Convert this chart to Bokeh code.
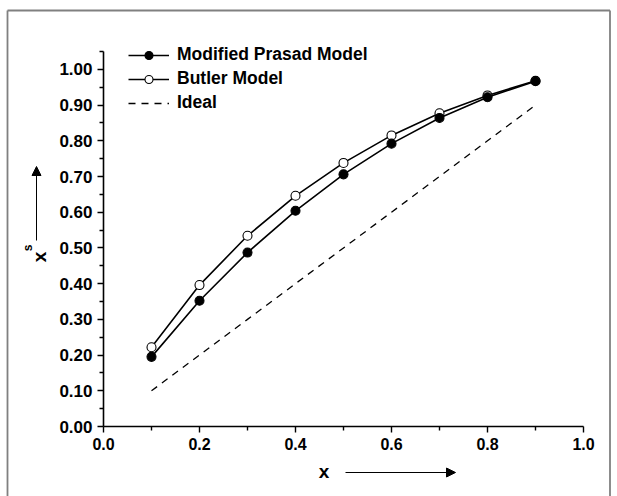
from bokeh.plotting import figure
from bokeh.models import Range1d, FixedTicker, NumeralTickFormatter, Label, Arrow, NormalHead, Legend, LegendItem
from bokeh.embed import file_html
from bokeh.resources import INLINE

# ---- data ----
x_vals = [0.1, 0.2, 0.3, 0.4, 0.5, 0.6, 0.7, 0.8, 0.9]
prasad = [0.195, 0.352, 0.487, 0.604, 0.706, 0.792, 0.864, 0.922, 0.967]
butler = [0.222, 0.396, 0.534, 0.646, 0.738, 0.815, 0.877, 0.927, 0.968]
ideal = [0.1, 0.2, 0.3, 0.4, 0.5, 0.6, 0.7, 0.8, 0.9]

x_major = [0.0, 0.2, 0.4, 0.6, 0.8, 1.0]
x_minor = [0.1, 0.3, 0.5, 0.7, 0.9]
y_major = [0.0, 0.1, 0.2, 0.3, 0.4, 0.5, 0.6, 0.7, 0.8, 0.9, 1.0]
y_minor = [0.05, 0.15, 0.25, 0.35, 0.45, 0.55, 0.65, 0.75, 0.85, 0.95, 1.05]

labels = ["Modified Prasad Model", "Butler Model", "Ideal"]

FONT = "Liberation Sans"

W, H = 617, 496
# pixel position of the plot box inside the canvas
PL, PR, PT, PB = 103, 583, 51, 426
AX0, AX1 = 0.0, 1.0
AY0, AY1 = 0.0, 1.05

sx = (PR - PL) / (AX1 - AX0)
sy = (PB - PT) / (AY1 - AY0)
def dx(px):
    return AX0 + (px - PL) / sx
def dy(py):
    return AY0 + (PB - py) / sy

p = figure(width=W, height=H, output_backend="svg", toolbar_location=None,
           x_range=Range1d(dx(0), dx(W)), y_range=Range1d(dy(H), dy(0)),
           min_border_left=0, min_border_right=0, min_border_top=0, min_border_bottom=0)
p.xgrid.visible = False
p.ygrid.visible = False
p.outline_line_color = None
p.background_fill_color = "white"
p.border_fill_color = "white"

for ax in (p.xaxis[0], p.yaxis[0]):
    ax.fixed_location = 0
    ax.axis_line_width = 1.6
    ax.major_tick_line_width = 1.4
    ax.minor_tick_line_width = 1.4
    ax.major_tick_in = 0
    ax.minor_tick_in = 0
    ax.major_tick_out = 6
    ax.minor_tick_out = 4
    ax.major_label_text_font = FONT
    ax.major_label_text_font_style = "bold"
    ax.major_label_text_color = "black"
    ax.axis_line_color = "black"
    ax.major_tick_line_color = "black"
    ax.minor_tick_line_color = "black"

p.xaxis[0].bounds = (AX0, AX1)
p.xaxis[0].ticker = FixedTicker(ticks=x_major, minor_ticks=x_minor)
p.xaxis[0].formatter = NumeralTickFormatter(format="0.0")
p.xaxis[0].major_label_standoff = 5
p.xaxis[0].major_label_text_font_size = "16px"
p.yaxis[0].bounds = (AY0, AY1)
p.yaxis[0].ticker = FixedTicker(ticks=y_major, minor_ticks=y_minor)
p.yaxis[0].formatter = NumeralTickFormatter(format="0.00")
p.yaxis[0].major_label_standoff = 5
p.yaxis[0].major_label_text_font_size = "17px"

# series
r_ideal = p.line(x_vals, ideal, line_color="black", line_width=1.3, line_dash="7 6")
r_bl = p.line(x_vals, butler, line_color="black", line_width=1.6)
r_pl = p.line(x_vals, prasad, line_color="black", line_width=1.6)
r_bm = p.scatter(x_vals, butler, marker="circle", size=9, fill_color="white", line_color="black", line_width=1.1)
r_pm = p.scatter(x_vals, prasad, marker="circle", size=9, fill_color="black", line_color="black", line_width=1.1)

legend = Legend(items=[LegendItem(label=labels[0], renderers=[r_pl, r_pm]),
                       LegendItem(label=labels[1], renderers=[r_bl, r_bm]),
                       LegendItem(label=labels[2], renderers=[r_ideal])],
                location=(128, H - 113))
legend.border_line_color = None
legend.background_fill_alpha = 0
legend.padding = 0
legend.margin = 0
legend.spacing = 3
legend.glyph_width = 41
legend.glyph_height = 20
legend.label_height = 20
legend.label_standoff = 8
legend.label_text_font = FONT
legend.label_text_font_style = "bold"
legend.label_text_font_size = "17.5px"
legend.label_text_color = "black"
p.add_layout(legend, "center")

# axis labels with arrows
p.add_layout(Label(x=dx(323.5), y=dy(470.5), text="x", text_font=FONT, text_font_style="bold",
                   text_font_size="19px", text_align="center", text_baseline="middle", text_color="black"))
p.add_layout(Arrow(x_start=dx(345), y_start=dy(472), x_end=dx(455), y_end=dy(472),
                   line_color="black", line_width=1,
                   end=NormalHead(size=9, fill_color="black", line_color="black")))

p.add_layout(Label(x=dx(39), y=dy(256.5), text="x", angle=1.5708, text_font=FONT, text_font_style="bold",
                   text_font_size="19px", text_align="center", text_baseline="middle", text_color="black"))
p.add_layout(Label(x=dx(27), y=dy(247.5), text="s", angle=1.5708, text_font=FONT, text_font_style="bold",
                   text_font_size="12px", text_align="center", text_baseline="middle", text_color="black"))
p.add_layout(Arrow(x_start=dx(36), y_start=dy(240), x_end=dx(36), y_end=dy(166),
                   line_color="black", line_width=1,
                   end=NormalHead(size=9, fill_color="black", line_color="black")))

# outer gray frame
bx0, bx1, by0, by1 = dx(7), dx(609.5), dy(10), dy(520)
for (xa, ya, xb, yb) in [(bx0, by0, bx1, by0), (bx0, by0, bx0, by1), (bx1, by0, bx1, by1)]:
    p.add_layout(Arrow(x_start=xa, y_start=ya, x_end=xb, y_end=yb, end=None,
                       line_color="#808080", line_width=1.8))

open("out.html", "w").write(file_html(p, INLINE))
